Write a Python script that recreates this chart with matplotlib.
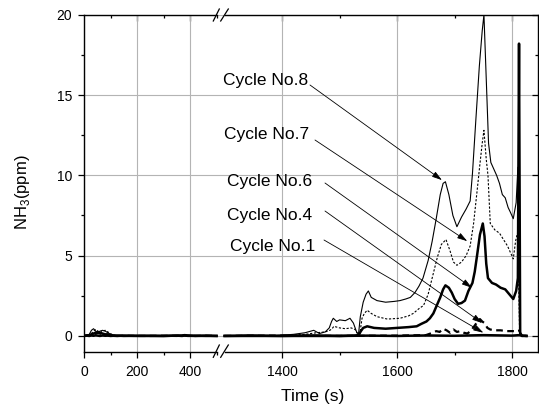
import matplotlib
matplotlib.use('Agg')
import matplotlib.pyplot as plt
from matplotlib.lines import Line2D

plt.rcParams['font.family'] = ['Liberation Sans', 'DejaVu Sans']
plt.rcParams['mathtext.fontset'] = 'custom'
plt.rcParams['mathtext.rm'] = 'Liberation Sans'

# ---- data ----
# left part of the broken time axis (0-500 s), shared time base
left_t = [0, 10, 20, 28, 36, 44, 52, 60, 70, 80, 90, 100, 110, 125, 150,
          200, 250, 300, 350, 370, 380, 390, 420, 460, 500]
c8_left = [0.02, 0.05, 0.1, 0.35, 0.45, 0.3, 0.15, 0.3, 0.35, 0.3, 0.2, 0.1, 0.05,
           0.02, 0, 0.02, 0, 0.01, 0, 0.03, 0.08, 0.02, 0, 0.01, 0]
c7_left = [0, 0.03, 0.05, 0.15, 0.3, 0.4, 0.3, 0.2, 0.3, 0.35, 0.25, 0.15, 0.05,
           0, 0.01, 0, 0.02, 0, 0.01, 0.02, 0.06, 0.01, 0, 0, 0.01]
c6_left = [0, 0.02, 0.05, 0.1, 0.15, 0.2, 0.25, 0.2, 0.15, 0.1, 0.1, 0.05, 0.03,
           0.02, 0, 0.01, 0, 0, 0.02, 0.03, 0.05, 0.03, 0.01, 0, 0]
c4_left = [0, 0.03, 0.05, 0.08, 0.1, 0.15, 0.2, 0.15, 0.1, 0.08, 0.05, 0.03, 0,
           0, 0.01, 0, 0, 0.01, 0, 0.02, 0.04, 0, 0, 0.01, 0]
c1_left = [0, 0.02, 0, 0.03, 0.01, 0.04, 0.02, 0, 0.03, 0.01, 0.02, 0, 0.01,
           0, 0.02, 0, 0.01, 0, 0.02, 0, 0.03, 0.01, 0, 0.02, 0]

# right part (1300-1825 s)
t8 = [1300, 1340, 1380, 1420, 1440, 1455, 1465, 1475, 1482, 1486, 1489, 1495, 1500,
      1510, 1518, 1524, 1530, 1533, 1536, 1541, 1546, 1550, 1555, 1565, 1580, 1595,
      1605, 1615, 1623, 1631, 1638, 1645, 1654, 1661, 1668, 1675, 1680, 1684, 1690,
      1697, 1704, 1712, 1720, 1727, 1731, 1737, 1743, 1748, 1751, 1755, 1759, 1763,
      1768, 1773, 1778, 1783, 1788, 1793, 1797, 1802, 1807, 1810, 1813, 1816, 1825]
y8 = [0, 0.05, 0, 0.1, 0.2, 0.35, 0.15, 0.25, 0.5, 0.9, 1.1, 0.9, 1.0,
      0.95, 1.1, 0.8, 0.2, 0.15, 1.2, 2.1, 2.6, 2.8, 2.4, 2.2, 2.1, 2.15,
      2.2, 2.3, 2.4, 2.7, 3.1, 3.6, 4.7, 5.9, 7.3, 8.8, 9.5, 9.6, 8.8,
      7.5, 6.8, 7.4, 7.9, 8.4, 10.1, 13.5, 16.8, 19.0, 20.0, 16.0, 12.0, 10.8,
      10.4, 10.0, 9.5, 8.8, 8.6, 8.0, 7.7, 7.3, 8.3, 10.5, 0.2, 0, 0]

t7 = [1300, 1350, 1400, 1440, 1460, 1475, 1483, 1487, 1490, 1500, 1510, 1520, 1527,
      1532, 1535, 1539, 1543, 1548, 1555, 1565, 1583, 1605, 1620, 1628, 1638, 1646,
      1654, 1663, 1670, 1677, 1685, 1692, 1698, 1704, 1712, 1720, 1727, 1733, 1739,
      1744, 1748, 1751, 1755, 1758, 1762, 1770, 1778, 1785, 1792, 1797, 1802, 1806,
      1810, 1813, 1816, 1825]
y7 = [0, 0.03, 0.02, 0.1, 0.2, 0.25, 0.35, 0.45, 0.6, 0.5, 0.45, 0.5, 0.4,
      0.1, 0.1, 1.1, 1.4, 1.6, 1.4, 1.2, 1.05, 1.1, 1.25, 1.4, 1.7, 1.9,
      2.6, 3.9, 4.9, 5.7, 6.0, 5.3, 4.6, 4.4, 4.6, 5.0, 5.6, 7.0, 9.0,
      10.7, 12.0, 12.8, 11.0, 10.0, 7.0, 6.6, 6.4, 6.0, 5.6, 5.2, 4.8, 5.9,
      6.5, 0.2, 0, 0]

t6 = [1300, 1400, 1500, 1525, 1533, 1537, 1541, 1548, 1560, 1580, 1600, 1620, 1634,
      1642, 1651, 1657, 1663, 1669, 1675, 1680, 1684, 1690, 1695, 1700, 1706, 1712,
      1718, 1724, 1731, 1735, 1739, 1744, 1749, 1752, 1755, 1758, 1765, 1772, 1780,
      1788, 1795, 1802, 1807, 1810, 1812, 1814, 1817, 1825]
y6 = [0, 0, 0, 0.02, 0.05, 0.3, 0.5, 0.6, 0.5, 0.45, 0.5, 0.55, 0.6,
      0.75, 0.9, 1.1, 1.4, 1.9, 2.4, 2.9, 3.15, 3.0, 2.7, 2.3, 2.0, 2.05,
      2.2, 2.8, 3.3, 4.0, 5.0, 6.3, 7.0, 6.2, 4.5, 3.6, 3.3, 3.2, 3.0,
      2.9, 2.6, 2.3, 2.8, 3.6, 18.2, 0.2, 0, 0]

t4 = [1300, 1400, 1500, 1600, 1650, 1662, 1668, 1674, 1680, 1686, 1692, 1698, 1704,
      1710, 1716, 1722, 1728, 1734, 1740, 1744, 1748, 1752, 1757, 1762, 1770, 1780,
      1790, 1800, 1810, 1813, 1815, 1825]
y4 = [0, 0.02, 0, 0.02, 0.05, 0.2, 0.3, 0.25, 0.45, 0.35, 0.2, 0.4, 0.25,
      0.3, 0.2, 0.15, 0.3, 0.6, 0.9, 1.05, 0.9, 0.8, 0.5, 0.4, 0.35, 0.35,
      0.3, 0.3, 0.3, 0.35, 0, 0]

t1 = [1300, 1350, 1400, 1450, 1500, 1550, 1600, 1650, 1700, 1750, 1800, 1812, 1825]
y1 = [0, 0.02, 0, 0.03, 0, 0.02, 0, 0.03, 0.01, 0.05, 0.02, 0.05, 0]

labels = ['Cycle No.8', 'Cycle No.7', 'Cycle No.6', 'Cycle No.4', 'Cycle No.1']
arrow_tips = [(1678, 9.7), (1722, 5.9), (1730, 3.0), (1748, 0.8), (1750, 0.2)]

# ---- layout in pixels ----
W, H = 539, 411
L, BRK, R, TOP, BOT = 84, 220, 538, 14.7, 352


def fx(px):
    return px / W


def fy(py):
    return 1 - py / H


fig = plt.figure(figsize=(W / 100, H / 100), dpi=100)
ax1 = fig.add_axes([fx(L), fy(BOT), fx(BRK) - fx(L), fy(TOP) - fy(BOT)])
ax2 = fig.add_axes([fx(BRK), fy(BOT), fx(R) - fx(BRK), fy(TOP) - fy(BOT)])

styles = [
    dict(color='k', lw=0.8, ls='-'),
    dict(color='k', lw=0.8, ls=(0, (2, 1.5))),
    dict(color='k', lw=1.8, ls='-'),
    dict(color='k', lw=1.6, ls=(0, (3, 2))),
    dict(color='k', lw=1.8, ls='-'),
]
left_vals = [c8_left, c7_left, c6_left, c4_left, c1_left]
right_data = [(t8, y8), (t7, y7), (t6, y6), (t4, y4), (t1, y1)]

for lv, (tr, yr), st in zip(left_vals, right_data, styles):
    ax1.plot(left_t, lv, **st)
    ax2.plot(tr, yr, **st)

ax1.set_xlim(0, 513)
ax2.set_xlim(1292, 1845)
for ax in (ax1, ax2):
    ax.set_ylim(-1, 20)
    ax.set_yticks([0, 5, 10, 15, 20])
    ax.set_yticks([2.5, 7.5, 12.5, 17.5], minor=True)
    ax.grid(True, which='major', color='#b4b4b4', lw=0.8)
    ax.set_axisbelow(True)
    for s in ax.spines.values():
        s.set_linewidth(1.0)

ax1.set_xticks([0, 200, 400])
ax1.set_xticks([100, 300, 500], minor=True)
ax2.set_xticks([1400, 1600, 1800])
ax2.set_xticks([1500, 1700], minor=True)

ax1.spines['right'].set_visible(False)
ax2.spines['left'].set_visible(False)
ax1.spines['bottom'].set_bounds(0, 500)
ax1.spines['top'].set_bounds(0, 500)
ax2.spines['bottom'].set_bounds(1300, 1845)
ax2.spines['top'].set_bounds(1300, 1845)

ax1.tick_params(axis='x', which='both', direction='out', top=False, labelsize=10, pad=5)
ax1.tick_params(axis='y', which='both', direction='out', right=False, labelsize=10, pad=4)
ax2.tick_params(axis='x', which='both', direction='out', top=False, labelsize=10, pad=5)
ax2.tick_params(axis='y', which='both', direction='in', left=False, right=True,
                labelleft=False)
for ax in (ax1, ax2):
    ax.tick_params(which='major', length=4.5, width=0.9)
    ax.tick_params(which='minor', length=2.5, width=0.9)

# mirrored top ticks pointing inwards
for ax, maj, mnr in ((ax1, [200, 400], [100, 300, 500]),
                     (ax2, [1400, 1600, 1800], [1500, 1700])):
    sec = ax.secondary_xaxis('top')
    sec.set_xticks(maj)
    sec.set_xticks(mnr, minor=True)
    sec.tick_params(which='both', direction='in', labeltop=False, width=0.9)
    sec.tick_params(which='major', length=4.5)
    sec.tick_params(which='minor', length=2.5)
    sec.spines['top'].set_visible(False)

# axis break marks
for py0, py1 in ((357.3, 345.0), (21.0, 9.0)):
    for x0, x1 in ((213.3, 219.3), (220.7, 228.3)):
        fig.add_artist(Line2D([fx(x0), fx(x1)], [fy(py0), fy(py1)],
                              transform=fig.transFigure, color='k', lw=0.9))

# cycle labels with arrows
text_pos = [(265.5, 81), (267, 135), (270, 181), (270, 215), (273, 246)]
arrow_start = [(310, 85), (315, 140), (325, 183), (325, 211), (324, 240)]
for lab, (tx, ty), (sx, sy), tip in zip(labels, text_pos, arrow_start, arrow_tips):
    fig.text(fx(tx), fy(ty), lab, ha='center', va='center', fontsize=12.5)
    ax2.annotate('', xy=tip, xycoords='data', xytext=(sx, H - sy),
                 textcoords='figure pixels', annotation_clip=False,
                 arrowprops=dict(arrowstyle='-|>,head_length=0.6,head_width=0.18',
                                 color='k', lw=0.6, shrinkA=0, shrinkB=0))

fig.text(fx(313), fy(396), 'Time (s)', ha='center', va='center', fontsize=12.5)
fig.text(fx(23), fy(192), 'NH$_3$(ppm)', ha='center', va='center',
         rotation=90, fontsize=12)

fig.savefig('out.png', dpi=100)
